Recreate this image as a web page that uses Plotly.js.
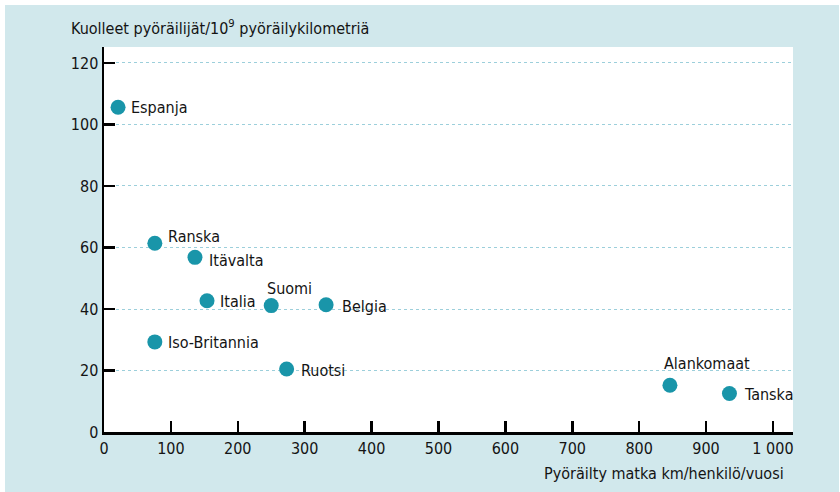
<!DOCTYPE html>
<html>
<head>
<meta charset="utf-8">
<script src="https://cdn.plot.ly/plotly-3.0.1.min.js"></script>
<style>
  html, body { margin: 0; padding: 0; background: #ffffff; }
  #chart { position: absolute; left: 5px; top: 5px; width: 834px; height: 487px; }
</style>
</head>
<body>
<div id="chart"></div>
<script>
// Data
const countries = ["Espanja", "Ranska", "Itävalta", "Italia", "Suomi", "Belgia", "Iso-Britannia", "Ruotsi", "Alankomaat", "Tanska"];
const kmPerPerson = [21, 76, 136, 154, 250, 332, 76, 273, 846, 935];
const deathsPerBillionKm = [105.6, 61.4, 56.8, 42.7, 41.1, 41.4, 29.3, 20.5, 15.2, 12.5];
const xTickVals = [0, 100, 200, 300, 400, 500, 600, 700, 800, 900, 1000];
const xTickText = ["0", "100", "200", "300", "400", "500", "600", "700", "800", "900", "1 000"];
const yTickVals = [0, 20, 40, 60, 80, 100, 120];
const yTickText = ["0", "20", "40", "60", "80", "100", "120"];
const yTitle = "Kuolleet pyöräilijät/10<sup>9</sup> pyöräilykilometriä";
const xTitle = "Pyöräilty matka km/henkilö/vuosi";

// Label placement (style only): [xanchor, xshift, yshift]
const labelPlacement = [
  ["left", 11, 0],
  ["left", 11, 7],
  ["left", 12, -3],
  ["left", 11, -1],
  ["center", 18, 17],
  ["left", 14, -2],
  ["left", 11, -1],
  ["left", 12, -2],
  ["center", 37, 22],
  ["left", 13, -1]
];

const FONT = '"Liberation Sans Narrow", "DejaVu Sans Condensed", "Liberation Sans", sans-serif';
const FS = 16;
const TEXT = '#141414';

const trace = {
  type: 'scatter',
  mode: 'markers',
  x: kmPerPerson,
  y: deathsPerBillionKm,
  marker: { size: 15, color: '#1995a9', line: { width: 0 } },
  hoverinfo: 'skip',
  cliponaxis: false
};

const annotations = countries.map((c, i) => ({
  x: kmPerPerson[i],
  y: deathsPerBillionKm[i],
  xref: 'x', yref: 'y',
  text: c,
  showarrow: false,
  xanchor: labelPlacement[i][0],
  yanchor: 'middle',
  xshift: labelPlacement[i][1],
  yshift: labelPlacement[i][2],
  font: { family: FONT, size: FS, color: TEXT }
}));

annotations.push({
  x: 0, y: 1, xref: 'paper', yref: 'paper',
  text: yTitle, showarrow: false,
  xanchor: 'left', yanchor: 'middle', xshift: -35, yshift: 20,
  font: { family: FONT, size: FS, color: TEXT }
});
annotations.push({
  x: 1, y: 0, xref: 'paper', yref: 'paper',
  text: xTitle, showarrow: false,
  xanchor: 'right', yanchor: 'middle', xshift: -7, yshift: -41,
  font: { family: FONT, size: FS, color: TEXT }
});

const layout = {
  width: 834, height: 487,
  margin: { l: 99, r: 46, t: 42, b: 60, pad: 0 },
  paper_bgcolor: '#d1e8ec',
  plot_bgcolor: '#ffffff',
  showlegend: false,
  font: { family: FONT, size: FS, color: TEXT },
  xaxis: {
    range: [0, 1030],
    tickvals: xTickVals, ticktext: xTickText,
    ticks: 'inside', ticklen: 11, tickwidth: 2.5, tickcolor: '#000',
    showline: true, linecolor: '#000', linewidth: 2.5,
    showgrid: false, zeroline: false,
    tickfont: { family: FONT, size: FS, color: TEXT },
    fixedrange: true
  },
  yaxis: {
    range: [0, 125.2],
    tickvals: yTickVals, ticktext: yTickText,
    ticks: 'inside', ticklen: 11, tickwidth: 2.5, tickcolor: '#000',
    showline: true, linecolor: '#000', linewidth: 2.5,
    showgrid: true, gridcolor: '#9ccfdb', gridwidth: 1, griddash: '3px,3px',
    zeroline: false,
    tickfont: { family: FONT, size: FS, color: TEXT },
    fixedrange: true
  },
  annotations: annotations
};

Plotly.newPlot('chart', [trace], layout, { displayModeBar: false, staticPlot: true });
</script>
</body>
</html>
